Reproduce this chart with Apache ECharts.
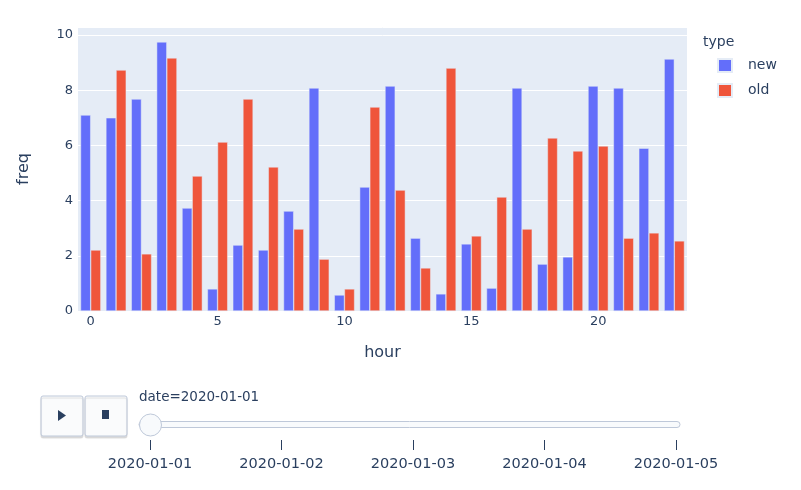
<!DOCTYPE html>
<html>
<head>
<meta charset="utf-8">
<script src="https://cdn.jsdelivr.net/npm/echarts@6/dist/echarts.min.js"></script>
<style>
html,body{margin:0;padding:0;background:#fff;}
#chart{width:801px;height:490px;}
</style>
</head>
<body>
<div id="chart"></div>
<script>
const hours = [0,1,2,3,4,5,6,7,8,9,10,11,12,13,14,15,16,17,18,19,20,21,22,23];
const newFreq = [7.10,7.00,7.68,9.75,3.73,0.80,2.39,2.21,3.62,8.08,0.58,4.49,8.15,2.64,0.62,2.43,0.83,8.08,1.70,1.96,8.15,8.08,5.90,9.13];
const oldFreq = [2.21,8.73,2.07,9.17,4.89,6.12,7.68,5.22,2.97,1.88,0.80,7.39,4.38,1.56,8.80,2.72,4.13,2.97,6.27,5.80,5.98,2.64,2.83,2.54];
const dates = ['2020-01-01','2020-01-02','2020-01-03','2020-01-04','2020-01-05'];
const yTicks = [0,2,4,6,8,10];

const txt = '#2a3f5f';
const font = '"DejaVu Sans", Verdana, sans-serif';
const chart = echarts.init(document.getElementById('chart'), null, {renderer:'canvas'});

const option = {
  backgroundColor: '#fff',
  animation: false,
  textStyle: {fontFamily: font, color: txt},
  grid: [
    {left: 78, right: 114, top: 27, bottom: 179, show: true, backgroundColor: '#E5ECF6', borderWidth: 0},
    {left: 150, width: 526, top: 439, height: 1, show: false}
  ],
  legend: {
    orient: 'vertical', left: 717, top: 58, padding: 0,
    itemWidth: 14, itemHeight: 13, itemGap: 10, icon: 'rect',
    textStyle: {fontFamily: font, fontSize: 14, color: txt, padding: [0,0,0,11]},
    data: ['new','old']
  },
  xAxis: [
    {
      type: 'category', gridIndex: 0, data: hours,
      name: 'hour', nameLocation: 'middle', nameGap: 34,
      nameTextStyle: {fontFamily: font, fontSize: 16, color: txt},
      axisLine: {show: false}, axisTick: {show: false},
      axisLabel: {interval: 4, margin: 4, fontFamily: font, fontSize: 13, color: txt},
      splitLine: {show: false}
    },
    {
      type: 'category', gridIndex: 1, data: dates, boundaryGap: false,
      axisLine: {show: false},
      axisTick: {show: true, length: 10, lineStyle: {color: '#2a3f5f', width: 1}},
      axisLabel: {margin: 17, fontFamily: font, fontSize: 14.5, color: txt},
      splitLine: {show: false}
    }
  ],
  yAxis: [
    {
      type: 'value', gridIndex: 0, min: 0, max: 10.29, interval: 2,
      name: 'freq', nameLocation: 'middle', nameGap: 46, nameRotate: 90,
      nameTextStyle: {fontFamily: font, fontSize: 16, color: txt},
      axisLine: {show: false}, axisTick: {show: false},
      axisLabel: {margin: 5, fontFamily: font, fontSize: 13, color: txt,
        formatter: v => yTicks.includes(v) ? String(v) : ''},
      splitLine: {show: true, lineStyle: {color: '#ffffff', width: 1}}
    },
    {type: 'value', gridIndex: 1, show: false, min: 0, max: 1}
  ],
  series: [
    {name: 'new', type: 'bar', xAxisIndex: 0, yAxisIndex: 0, data: newFreq,
     barGap: '0%', barCategoryGap: '20%',
     itemStyle: {color: '#636EFA', borderColor: '#E5ECF6', borderWidth: 0.5}},
    {name: 'old', type: 'bar', xAxisIndex: 0, yAxisIndex: 0, data: oldFreq,
     barGap: '0%', barCategoryGap: '20%',
     itemStyle: {color: '#EF553B', borderColor: '#E5ECF6', borderWidth: 0.5}}
  ],
  graphic: [
    {type: 'text', left: 703, top: 35, style: {text: 'type', fontFamily: font, fontSize: 14, fill: txt}},
    // buttons
    {type: 'rect', shape: {x: 41, y: 396, width: 42, height: 40, r: 2},
     style: {fill: '#FAFBFC', stroke: '#BEC8D9', lineWidth: 1, shadowColor: 'rgba(0,0,0,0.12)', shadowOffsetY: 2, shadowBlur: 1}},
    {type: 'polygon', shape: {points: [[58, 410], [58, 421], [66, 415.5]]}, style: {fill: txt}},
    {type: 'rect', shape: {x: 85, y: 396, width: 42, height: 40, r: 2},
     style: {fill: '#FAFBFC', stroke: '#BEC8D9', lineWidth: 1, shadowColor: 'rgba(0,0,0,0.12)', shadowOffsetY: 2, shadowBlur: 1}},
    {type: 'rect', shape: {x: 102, y: 410, width: 7, height: 9}, style: {fill: txt}},
    // current value
    {type: 'text', left: 139, top: 390, style: {text: 'date=' + dates[0], fontFamily: font, fontSize: 13.5, fill: txt}},
    // rail
    {type: 'rect', shape: {x: 139, y: 421.5, width: 541, height: 6, r: 3},
     style: {fill: '#F8FAFC', stroke: '#BEC8D9', lineWidth: 1}},
    // handle
    {type: 'circle', shape: {cx: 150.5, cy: 425, r: 11},
     style: {fill: '#F8FAFC', stroke: '#BEC8D9', lineWidth: 1}}
  ]
};
chart.setOption(option);
</script>
</body>
</html>
